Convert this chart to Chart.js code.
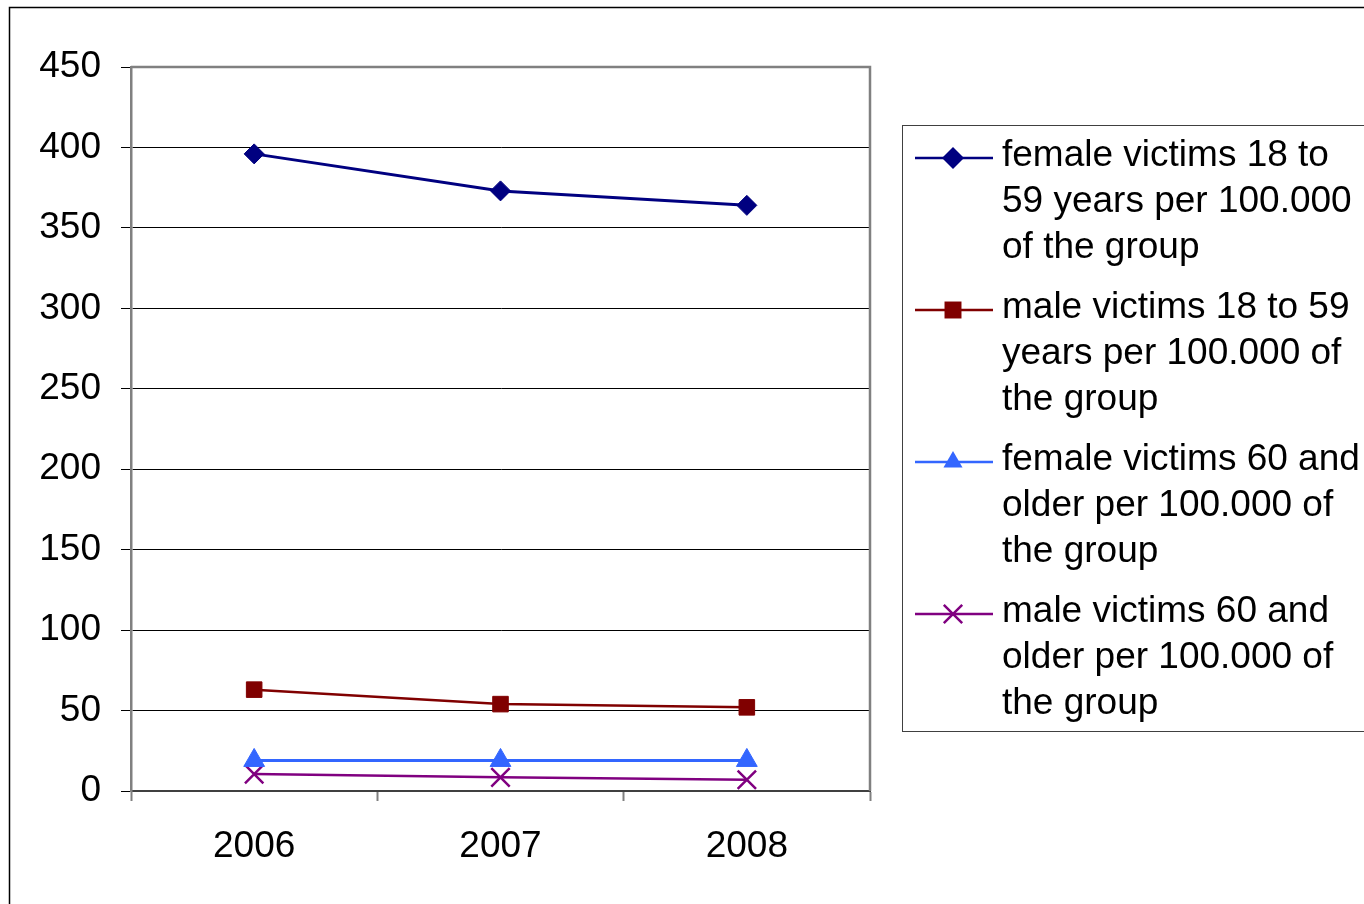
<!DOCTYPE html>
<html>
<head>
<meta charset="utf-8">
<script src="https://cdn.jsdelivr.net/npm/chart.js@4/dist/chart.umd.min.js"></script>
<style>
html,body{margin:0;padding:0;background:#fff;}
#wrap{position:relative;width:1364px;height:904px;}
</style>
</head>
<body>
<div id="wrap"><canvas id="c" width="1364" height="904"></canvas></div>
<script>
const categories = ['2006', '2007', '2008'];
const femaleVictims18to59 = [396, 373, 364];
const maleVictims18to59 = [63, 54, 52];
const femaleVictims60plus = [19, 19, 19];
const maleVictims60plus = [10.5, 8.5, 7];
const yTicks = [0, 50, 100, 150, 200, 250, 300, 350, 400, 450];
const legendLabels = [
  ['female victims 18 to', '59 years per 100.000', 'of the group'],
  ['male victims 18 to 59', 'years per 100.000 of', 'the group'],
  ['female victims 60 and', 'older per 100.000 of', 'the group'],
  ['male victims 60 and', 'older per 100.000 of', 'the group']
];

const FONT = '"Liberation Sans", Arial, sans-serif';
const FS = 37;

function mk(label, data, color, style, radius, lw) {
  return {
    label: label.join(' '),
    data: data,
    borderColor: color,
    backgroundColor: color,
    pointBackgroundColor: color,
    pointBorderColor: color,
    pointStyle: style,
    pointRadius: radius,
    pointHoverRadius: radius,
    pointBorderWidth: style === 'crossRot' ? 2.5 : 1,
    borderWidth: lw,
    tension: 0,
    fill: false
  };
}

const datasets = [
  mk(legendLabels[0], femaleVictims18to59, '#000080', 'rectRot', 10, 3),
  mk(legendLabels[1], maleVictims18to59, '#800000', 'rect', 11, 2.5),
  mk(legendLabels[2], femaleVictims60plus, '#3366FF', 'triangle', 12, 3),
  mk(legendLabels[3], maleVictims60plus, '#800080', 'crossRot', 13, 2.5)
];

function drawMarker(ctx, style, color, x, y, r) {
  ctx.save();
  ctx.fillStyle = color;
  ctx.strokeStyle = color;
  ctx.beginPath();
  if (style === 'rectRot') {
    ctx.moveTo(x, y - r); ctx.lineTo(x + r, y); ctx.lineTo(x, y + r); ctx.lineTo(x - r, y); ctx.closePath(); ctx.fill();
  } else if (style === 'rect') {
    const s = r * Math.SQRT1_2;
    ctx.rect(x - s, y - s, 2 * s, 2 * s); ctx.fill();
  } else if (style === 'triangle') {
    ctx.moveTo(x, y - r);
    ctx.lineTo(x + r * Math.sin(2 * Math.PI / 3), y + r * 0.5);
    ctx.lineTo(x - r * Math.sin(2 * Math.PI / 3), y + r * 0.5);
    ctx.closePath(); ctx.fill();
  } else if (style === 'crossRot') {
    const s = r * Math.SQRT1_2;
    ctx.lineWidth = 2.5;
    ctx.moveTo(x - s, y - s); ctx.lineTo(x + s, y + s);
    ctx.moveTo(x + s, y - s); ctx.lineTo(x - s, y + s);
    ctx.stroke();
  }
  ctx.restore();
}

const framePlugin = {
  id: 'frame',
  beforeDraw(chart) {
    const ctx = chart.ctx;
    ctx.save();
    ctx.fillStyle = '#fff';
    ctx.fillRect(0, 0, chart.width, chart.height);
    ctx.strokeStyle = '#000';
    ctx.lineWidth = 1.5;
    ctx.beginPath();
    ctx.moveTo(9.5, chart.height + 5);
    ctx.lineTo(9.5, 7.5);
    ctx.lineTo(chart.width + 5, 7.5);
    ctx.stroke();
    ctx.restore();
  },
  afterDatasetsDraw(chart) {
    const ctx = chart.ctx;
    const a = chart.chartArea;
    ctx.save();
    ctx.strokeStyle = '#808080';
    ctx.lineWidth = 2.5;
    ctx.beginPath();
    ctx.moveTo(a.left, a.top);
    ctx.lineTo(a.right, a.top);
    ctx.lineTo(a.right, a.bottom);
    ctx.stroke();
    ctx.restore();
  },
  afterDraw(chart) {
    const ctx = chart.ctx;
    ctx.save();
    ctx.strokeStyle = '#404040';
    ctx.lineWidth = 1;
    ctx.strokeRect(902.5, 125.5, 600, 606);
    ctx.font = FS + 'px ' + FONT;
    ctx.fillStyle = '#000';
    ctx.textBaseline = 'middle';
    ctx.textAlign = 'left';
    chart.data.datasets.forEach((ds, i) => {
      const y0 = 156 + i * 152;
      ctx.strokeStyle = ds.borderColor;
      ctx.lineWidth = 2.5;
      ctx.beginPath();
      ctx.moveTo(915, y0 + 2);
      ctx.lineTo(993, y0 + 2);
      ctx.stroke();
      drawMarker(ctx, ds.pointStyle, ds.borderColor, 953, y0 + 2, ds.pointStyle === 'rect' ? 12 : (ds.pointStyle === 'crossRot' ? 13 : 11));
      legendLabels[i].forEach((line, j) => {
        ctx.fillText(line, 1002, y0 + j * 45.7);
      });
    });
    ctx.restore();
  }
};

new Chart(document.getElementById('c'), {
  type: 'line',
  data: { labels: categories, datasets: datasets },
  options: {
    responsive: false,
    animation: false,
    devicePixelRatio: 1,
    layout: { padding: { left: 0, top: 67, right: 494, bottom: 0 } },
    plugins: { legend: { display: false }, tooltip: { enabled: false }, title: { display: false } },
    scales: {
      x: {
        offset: true,
        afterFit(scale) { scale.height = 113; },
        grid: { offset: true, drawOnChartArea: false, drawTicks: true, tickLength: 10, tickColor: '#808080', tickWidth: 2 },
        border: { display: true, color: '#404040', width: 2 },
        ticks: { color: '#000', font: { size: FS, family: FONT }, padding: 24, maxRotation: 0 }
      },
      y: {
        min: 0,
        max: 450,
        afterFit(scale) { scale.width = 131; },
        afterBuildTicks(scale) { scale.ticks = yTicks.map(v => ({ value: v })); },
        grid: { color: '#000', lineWidth: 1, drawTicks: true, tickLength: 10, tickColor: '#000' },
        border: { display: true, color: '#808080', width: 2.5 },
        ticks: { color: '#000', font: { size: FS, family: FONT }, padding: 20 }
      }
    }
  },
  plugins: [framePlugin]
});
</script>
</body>
</html>
